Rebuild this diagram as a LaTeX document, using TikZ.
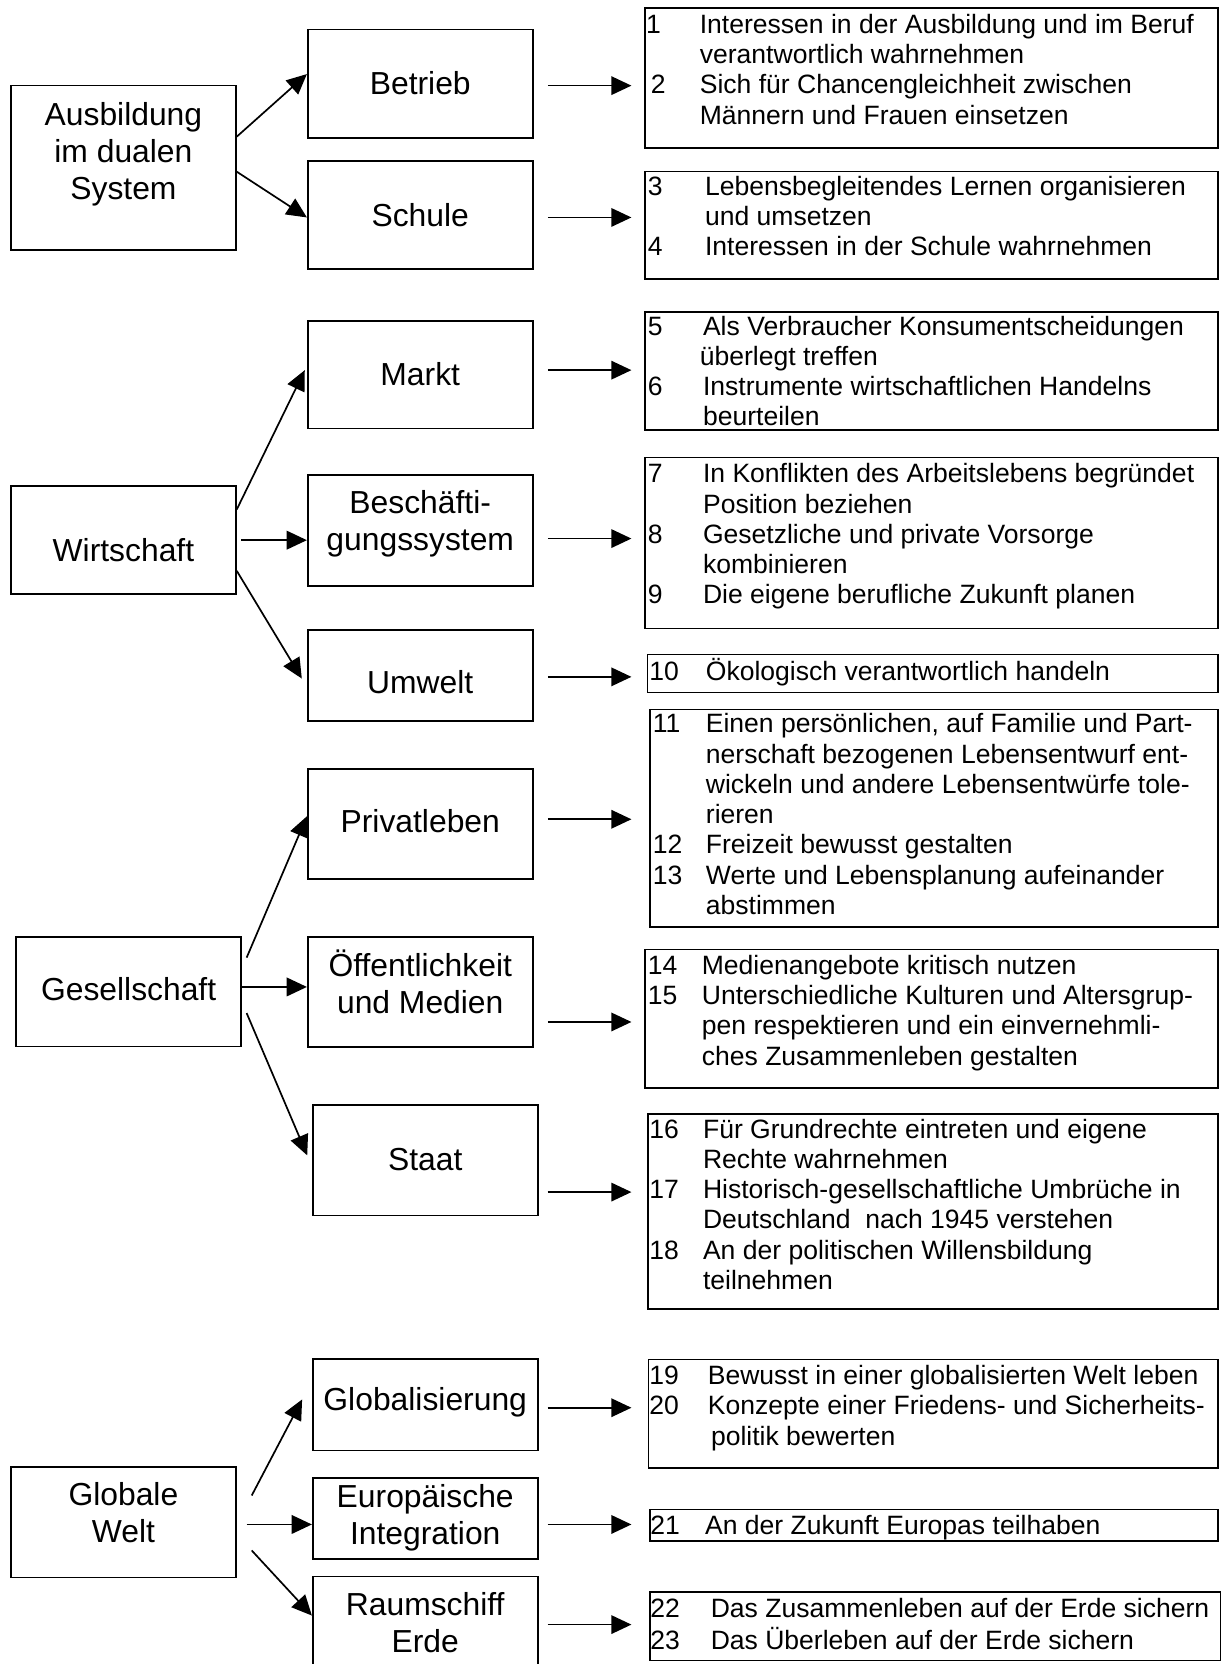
\documentclass[tikz,border=0pt]{standalone}
\usepackage{fontspec}
\setmainfont{Liberation Sans}
\usepackage{tikz}
\usetikzlibrary{arrows.meta}

\newcommand{\zeilen}[1]{\begin{tabular}[t]{@{}c@{}}#1\end{tabular}}
\newcommand{\ziele}[2]{\begin{tabular}[t]{@{}p{#1}@{}l@{}}#2\end{tabular}}

\begin{document}
\begin{tikzpicture}[
				x=1pt, y=-1pt,
				line width=1.6pt,
				bereich/.style = {draw, minimum width=212pt, inner sep=0pt},
				titel/.style = {anchor=base, inner sep=0pt, font=\fontsize{30}{35}\selectfont},
				zielbox/.style = {draw, anchor=north west, inner sep=0pt},
				ziel/.style = {anchor=base west, inner sep=0pt, font=\fontsize{25}{28.5}\selectfont},
				arrow/.style={-{Triangle[length=19pt, width=17.5pt]}}
				]
				\useasboundingbox (0,0) rectangle (1150,1568);
				\coordinate (spitze) at (595,0);
				
				% Ausbildung
				\node[bereich, minimum height=155pt] (aus) at (116.3,158.2) {};
				\node[bereich, minimum height=102pt] (bet) at (396,78.9) {};
				\node[bereich, minimum height=102pt] (sch) at (396,202.8) {};
				\node[titel] (aus-t) at (116.3,117.8) {\zeilen{Ausbildung\\im dualen\\System}};
				\node[titel] (bet-t) at (396,88.9) {Betrieb};
				\node[titel] (sch-t) at (396,213) {Schule};
				
				% Wirtschaft
				\node[bereich, minimum height=102pt] (wi) at (116.3,509) {};
				\node[bereich, minimum height=101.5pt] (mar) at (396,353) {};
				\node[bereich, minimum height=105pt] (bes) at (396,500) {};
				\node[bereich, minimum height=85.5pt] (umw) at (396,636.5) {};
				\node[titel] (wi-t) at (116.3,529.4) {Wirtschaft};
				\node[titel] (mar-t) at (396,362.9) {Markt};
				\node[titel] (bes-t) at (396,483.9) {\zeilen{Beschäfti-\\gungssystem}};
				\node[titel] (umw-t) at (396,653.5) {Umwelt};
				
				% Gesellschaft
				\node[bereich, minimum height=103pt] (ges) at (121.2,934.5) {};
				\node[bereich, minimum height=104pt] (pri) at (396,776.4) {};
				\node[bereich, minimum height=104pt] (oef) at (396,934.8) {};
				\node[bereich, minimum height=104pt] (sta) at (400.7,1093.4) {};
				\node[titel] (ges-t) at (121.2,942.6) {Gesellschaft};
				\node[titel] (pri-t) at (396,784.9) {Privatleben};
				\node[titel] (oef-t) at (396,920) {\zeilen{Öffentlichkeit\\und Medien}};
				\node[titel] (sta-t) at (400.7,1102.8) {Staat};
				
				% Globale Welt
				\node[bereich, minimum height=104pt] (glw) at (116.3,1434.4) {};
				\node[bereich, minimum height=86pt] (glo) at (400.7,1323.7) {};
				\node[bereich, minimum height=76pt] (eur) at (400.7,1431) {};
				\node[bereich, minimum height=114.5pt] (rau) at (400.7,1542.75) {};
				\node[titel] (glw-t) at (116.3,1418.6) {\zeilen{Globale\\Welt}};
				\node[titel] (glo-t) at (400.7,1329) {Globalisierung};
				\node[titel] (eur-t) at (400.7,1420.2) {\zeilen{Europäische\\Integration}};
				\node[titel] (rau-t) at (400.7,1522.3) {\zeilen{Raumschiff\\Erde}};
				
				% Ziele
				\node[zielbox, minimum width=539.7pt, minimum height=132pt] (r1) at (607.3,6.9) {};
				\node[zielbox, minimum width=539.7pt, minimum height=101.4pt] (r2) at (607.3,160.9) {};
				\node[zielbox, minimum width=539.7pt, minimum height=111.5pt] (r3) at (607.3,292.9) {};
				\node[zielbox, minimum width=539.7pt, minimum height=160.9pt] (r4) at (607.3,430.4) {};
				\node[zielbox, minimum width=537.8pt, minimum height=35.9pt] (r5) at (609.2,615.8) {};
				\node[zielbox, minimum width=535.6pt, minimum height=204.8pt] (r6) at (611.4,667.7) {};
				\node[zielbox, minimum width=539.7pt, minimum height=130.4pt] (r7) at (607.3,893.9) {};
				\node[zielbox, minimum width=537.5pt, minimum height=184.2pt] (r8) at (609.5,1048.7) {};
				\node[zielbox, minimum width=536.7pt, minimum height=102.4pt] (r9) at (610.3,1280.3) {};
				\node[zielbox, minimum width=535pt, minimum height=29.5pt] (r10) at (612,1421.7) {};
				\node[zielbox, minimum width=538pt, minimum height=64.6pt] (r11) at (612,1499.4) {};
				
				\node[ziel] (z1) at (608,31.4) {\ziele{50.7pt}{1 & Interessen in der Ausbildung und im Beruf\\ & verantwortlich wahrnehmen\\ \hspace*{4.4pt}2 & Sich für Chancengleichheit zwischen\\ & Männern und Frauen einsetzen}};
				\node[ziel] (z2) at (609.6,183.8) {\ziele{54pt}{3 & Lebensbegleitendes Lernen organisieren\\ & und umsetzen\\ 4 & Interessen in der Schule wahrnehmen}};
				\node[ziel] (z3) at (609.6,315.8) {\ziele{52.1pt}{5 & Als Verbraucher Konsumentscheidungen\\ & \hspace*{-3pt}überlegt treffen\\ 6 & Instrumente wirtschaftlichen Handelns\\ & beurteilen}};
				\node[ziel] (z4) at (609.6,455) {\ziele{52.1pt}{7 & In Konflikten des Arbeitslebens begründet\\ & Position beziehen\\ 8 & Gesetzliche und private Vorsorge\\ & kombinieren\\ 9 & Die eigene berufliche Zukunft planen}};
				\node[ziel] (z5) at (611,641) {\ziele{53.4pt}{10 & Ökologisch verantwortlich handeln}};
				\node[ziel] (z6) at (614.4,690.6) {\ziele{50pt}{11 & Einen persönlichen, auf Familie und Part-\\ & nerschaft bezogenen Lebensentwurf ent-\\ & wickeln und andere Lebensentwürfe tole-\\ & rieren\\ 12 & Freizeit bewusst gestalten\\ 13 & Werte und Lebensplanung aufeinander\\ & abstimmen}};
				\node[ziel] (z7) at (609.6,918.1) {\ziele{51pt}{14 & Medienangebote kritisch nutzen\\ 15 & Unterschiedliche Kulturen und Altersgrup-\\ & pen respektieren und ein einvernehmli-\\ & ches Zusammenleben gestalten}};
				\node[ziel] (z8) at (611,1072.5) {\ziele{50.7pt}{16 & Für Grundrechte eintreten und eigene\\ & Rechte wahrnehmen\\ 17 & Historisch-gesellschaftliche Umbrüche in\\ & Deutschland\ \ nach 1945 verstehen\\ 18 & An der politischen Willensbildung\\ & teilnehmen}};
				\node[ziel] (z9) at (611,1304.7) {\ziele{55.2pt}{19 & Bewusst in einer globalisierten Welt leben\\ 20 & Konzepte einer Friedens- und Sicherheits-\\ & \hspace*{3pt}politik bewerten}};
				\node[ziel] (z10) at (612,1445.5) {\ziele{51.6pt}{21 & An der Zukunft Europas teilhaben}};
				\node[ziel] (z11) at (612,1524.5) {\ziele{57pt}{22 & Das Zusammenleben auf der Erde sichern\\ 23 & Das Überleben auf der Erde sichern}};
				
				% Pfeile links
				\draw[arrow] ([yshift=29.4pt]aus.east) -- ([yshift=9.1pt]bet.west);
				\draw[arrow] ([yshift=-3.6pt]aus.east) -- ([yshift=-2.1pt]sch.west);
				\draw[arrow] ([yshift=28.9pt]wi.east) -- ([xshift=-2pt,yshift=4.2pt]mar.west);
				\draw[arrow] ([xshift=4pt]wi.east) -- ([yshift=-9pt]bes.west);
				\draw[arrow] ([yshift=-28.9pt]wi.east) -- ([xshift=-4.8pt,yshift=-2.9pt]umw.west);
				\draw[arrow] ([xshift=4.4pt,yshift=32.1pt]ges.east) -- ([yshift=7.2pt]pri.west);
				\draw[arrow] ([yshift=4.5pt]ges.east) -- ([yshift=4.8pt]oef.west);
				\draw[arrow] ([xshift=4.4pt,yshift=-20.1pt]ges.east) -- ([xshift=-4.4pt,yshift=4.7pt]sta.west);
				\draw[arrow] ([xshift=14.1pt,yshift=25.2pt]glw.east) -- ([xshift=-9.2pt,yshift=5pt]glo.west);
				\draw[arrow] ([xshift=9.2pt,yshift=-2.1pt]glw.east) -- ([yshift=-5.5pt]eur.west);
				\draw[arrow] ([xshift=14.1pt,yshift=-26.6pt]glw.east) -- ([yshift=20.4pt]rau.west);
				
				% Pfeile rechts
				\draw[arrow] ([xshift=13.4pt,yshift=-1.8pt]bet.east) -- ([yshift=-1.8pt]bet.east -| spitze);
				\draw[arrow] ([xshift=13.4pt,yshift=-2.1pt]sch.east) -- ([yshift=-2.1pt]sch.east -| spitze);
				\draw[arrow] ([xshift=13.4pt,yshift=4.2pt]mar.east) -- ([yshift=4.2pt]mar.east -| spitze);
				\draw[arrow] ([xshift=13.4pt,yshift=-7.5pt]bes.east) -- ([yshift=-7.5pt]bes.east -| spitze);
				\draw[arrow] ([xshift=13.4pt,yshift=-1.3pt]umw.east) -- ([yshift=-1.3pt]umw.east -| spitze);
				\draw[arrow] ([xshift=13.4pt,yshift=4.4pt]pri.east) -- ([yshift=4.4pt]pri.east -| spitze);
				\draw[arrow] ([xshift=13.4pt,yshift=-28.2pt]oef.east) -- ([yshift=-28.2pt]oef.east -| spitze);
				\draw[arrow] ([xshift=8.5pt,yshift=-29.9pt]sta.east) -- ([yshift=-29.9pt]sta.east -| spitze);
				\draw[arrow] ([xshift=8.5pt,yshift=-2.8pt]glo.east) -- ([yshift=-2.8pt]glo.east -| spitze);
				\draw[arrow] ([xshift=8.5pt,yshift=-5.5pt]eur.east) -- ([yshift=-5.5pt]eur.east -| spitze);
				\draw[arrow] ([xshift=8.5pt,yshift=11.9pt]rau.east) -- ([yshift=11.9pt]rau.east -| spitze);
			\end{tikzpicture}
\end{document}
